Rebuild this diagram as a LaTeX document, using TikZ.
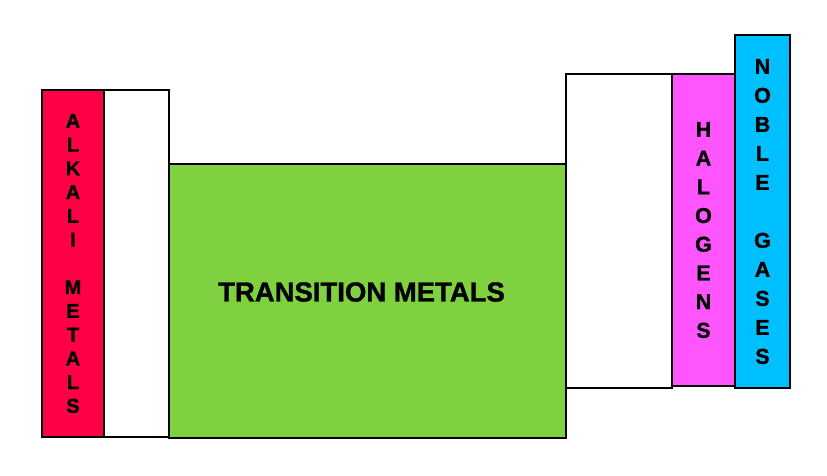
\documentclass[tikz,border=0pt]{standalone}
\usepackage{fontspec}
\setmainfont{Liberation Sans}[BoldFeatures={FakeBold=1.2}]
\definecolor{alkred}{HTML}{FF0044}
\definecolor{trgreen}{HTML}{80D13F}
\definecolor{halmag}{HTML}{FF55FF}
\definecolor{noblecyan}{HTML}{00BFFF}
\begin{document}
\begin{tikzpicture}[x=1pt,y=-1pt,
  box/.style={draw=black, line width=2.6pt, inner sep=0pt, align=center, font=\bfseries},
]
\useasboundingbox (0,0) rectangle (827,475);
\fill[white] (0,0) rectangle (827,475);
% alkali metals
\node[box, fill=alkred, minimum width=62pt, minimum height=347pt,
  font=\bfseries\fontsize{20}{23.75}\selectfont] (alk) at (73,263.5)
  {A\\L\\K\\A\\L\\I\\\mbox{}\\M\\E\\T\\A\\L\\S};
\node[box, fill=white, minimum width=65pt, minimum height=347pt] (alk2) at (136.5,263.5) {};
% transition metals
\node[box, fill=trgreen, minimum width=397pt, minimum height=274pt] (trans) at (367.5,301) {};
\node[font=\bfseries\fontsize{27.5}{30}\selectfont, inner sep=0pt] (transtext) at (361.5,292) {TRANSITION METALS};
% right white
\node[box, fill=white, minimum width=106pt, minimum height=314pt] (p) at (619,231) {};
% halogens
\node[box, fill=halmag, minimum width=63pt, minimum height=312pt,
  font=\bfseries\fontsize{21.5}{28.7}\selectfont] (hal) at (703.5,230)
  {H\\A\\L\\O\\G\\E\\N\\S};
% noble gases
\node[box, fill=noblecyan, minimum width=55pt, minimum height=353pt,
  font=\bfseries\fontsize{21.5}{29}\selectfont] (nob) at (762.5,211.5)
  {N\\O\\B\\L\\E\\\mbox{}\\G\\A\\S\\E\\S};
\end{tikzpicture}
\end{document}
